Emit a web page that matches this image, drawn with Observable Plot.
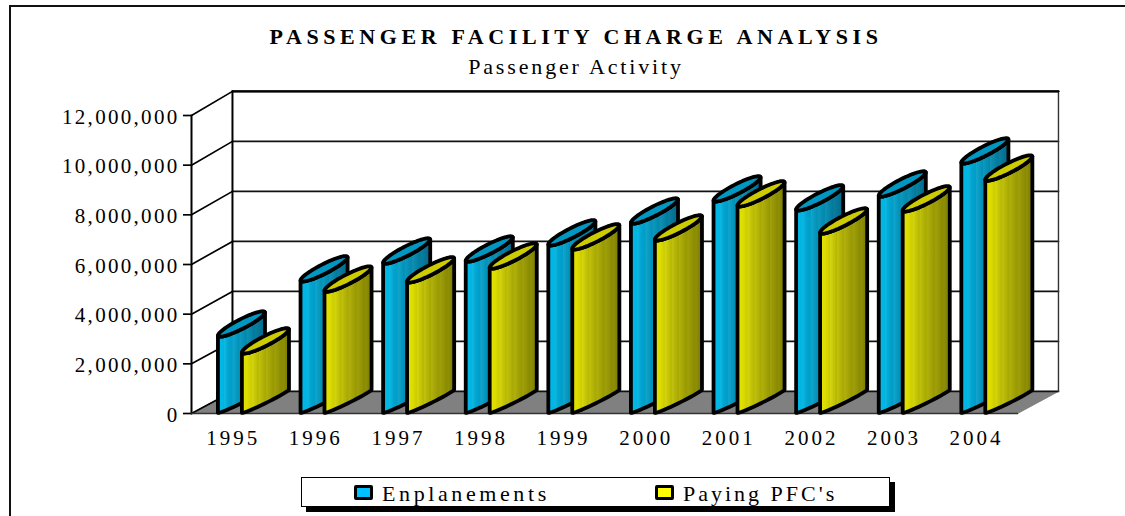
<!DOCTYPE html>
<html><head><meta charset="utf-8">
<script src="https://cdn.jsdelivr.net/npm/d3@7"></script>
<script src="https://cdn.jsdelivr.net/npm/@observablehq/plot@0.6"></script>
<style>
html,body{margin:0;padding:0;background:#fff;width:1125px;height:516px;overflow:hidden;font-family:"Liberation Serif",serif;color:#000}
#wrap{position:relative;width:1125px;height:516px;overflow:hidden}
#wrap svg{position:absolute;left:0;top:0}
#frame{position:absolute;left:9px;top:5px;width:1200px;height:600px;border:2px solid #111}
#title,#subtitle{position:absolute;left:0;width:1152px;text-align:center;white-space:nowrap}
#title{top:24px;font-size:22px;font-weight:bold;letter-spacing:4.6px}
#subtitle{top:54px;font-size:22px;letter-spacing:2.85px}
#legend{position:absolute;left:301px;top:477px;width:587px;height:28px;background:#fff;border:1px solid #000;box-shadow:5px 5px 0 #000;font-size:22px;letter-spacing:3.6px;line-height:28px}
.it{position:absolute;top:2px;white-space:nowrap}
.sw{position:absolute;top:7px;width:13px;height:9px;border:3px solid #000;border-radius:2px}
</style></head><body>
<div id="wrap">
<div id="frame"></div>
<div id="chart"></div>
<div id="title">PASSENGER FACILITY CHARGE ANALYSIS</div>
<div id="subtitle">Passenger Activity</div>
<div id="legend">
 <span class="sw" style="left:52px;background:#00c0ff"></span><span class="it" style="left:80px">Enplanements</span>
 <span class="sw" style="left:353px;background:#ffff00"></span><span class="it" style="left:381px;letter-spacing:3px">Paying PFC's</span>
</div>
</div>
<script>
const years = [1995,1996,1997,1998,1999,2000,2001,2002,2003,2004];
const enplanements = [3140000,5360000,6080000,6160000,6810000,7690000,8580000,8220000,8780000,10110000];
const payingPFCs = [2460000,4950000,5320000,5880000,6650000,7010000,8380000,7290000,8180000,9420000];
const yTicks = [0,2000000,4000000,6000000,8000000,10000000,12000000];

// projection of the pseudo-3D box, in data units
const x0 = 1994.58, x1 = 2004.58, depthX = 0.496;
const back = v => 890000 + v * 1.0068;

// elliptical cylinder cross-section
const barW = 0.57, barD = 930000, capBulge = 215000, baseBulge = 80000, steps = 28;
const ell = (x, base, t, b) => ({
  x: x + barW / 2 * (1 + Math.cos(t)),
  y: base + barD / 2 * (1 + Math.cos(t)) + b * Math.sin(t)
});
function body(id, x, v) {
  const pts = [];
  for (let i = 0; i <= steps; i++) { const t = Math.PI + i / steps * Math.PI; const p = ell(x, 30000, t, baseBulge); pts.push({...p, id}); }
  for (let i = 0; i <= steps; i++) { const t = 2 * Math.PI - i / steps * Math.PI; const p = ell(x, v, t, capBulge); pts.push({...p, id}); }
  pts.push(pts[0]);
  return pts;
}
function cap(id, x, v) {
  const pts = [];
  for (let i = 0; i <= steps * 2; i++) { const p = ell(x, v, i / steps * Math.PI, capBulge); pts.push({...p, id}); }
  return pts;
}
const series = [
  {vals: enplanements, off: -0.10, fill: "url(#gBlue)", capFill: "#0097c2"},
  {vals: payingPFCs, off: 0.19, fill: "url(#gYellow)", capFill: "#cccc00"}
];

const wallGrid = yTicks.flatMap(v => [{id:v,x:x0+depthX,y:back(v)},{id:v,x:x1+depthX,y:back(v)}]);
const sideGrid = yTicks.flatMap(v => [{id:v,x:x0,y:v},{id:v,x:x0+depthX,y:back(v)}]);
const floor = [{x:x0,y:0},{x:x1,y:0},{x:x1+depthX,y:back(0)},{x:x0+depthX,y:back(0)},{x:x0,y:0}];

const barMarks = years.flatMap((yr, i) => series.flatMap(s => [
  Plot.line(body(yr, yr + s.off, s.vals[i]), {x:"x", y:"y", z:"id", fill:s.fill, stroke:"#000", strokeWidth:3.8, curve:"linear"}),
  Plot.line(cap(yr, yr + s.off, s.vals[i]), {x:"x", y:"y", z:"id", fill:s.capFill, stroke:"#000", strokeWidth:3.8, curve:"linear"})
]));

const chart = Plot.plot({
  width:1125, height:516,
  marginLeft:191, marginRight:108, marginTop:115, marginBottom:103,
  style:{fontFamily:"'Liberation Serif',serif", background:"transparent", color:"#000"},
  x:{type:"linear", domain:[x0,x1]},
  y:{type:"linear", domain:[0,12000000]},
  marks:[
    Plot.line(floor,{x:"x",y:"y",fill:"#808080",stroke:"#808080",strokeWidth:1}),
    Plot.line(wallGrid,{x:"x",y:"y",z:"id",stroke:"#111",strokeWidth:1.7}),
    Plot.line(sideGrid,{x:"x",y:"y",z:"id",stroke:"#000",strokeWidth:1.7}),
    Plot.line([{x:x0+depthX,y:back(0)},{x:x0+depthX,y:back(12000000)}],{x:"x",y:"y",stroke:"#000",strokeWidth:2}),
    Plot.line([{x:x1+depthX,y:back(0)},{x:x1+depthX,y:back(12000000)}],{x:"x",y:"y",stroke:"#333",strokeWidth:1.4}),
    Plot.line([{x:x0+depthX,y:back(12000000)},{x:x1+depthX,y:back(12000000)}],{x:"x",y:"y",stroke:"#000",strokeWidth:2.2}),
    Plot.line([{x:x0,y:0},{x:x0,y:12000000}],{x:"x",y:"y",stroke:"#000",strokeWidth:2}),
    Plot.line([{x:x0,y:0},{x:x1,y:0}],{x:"x",y:"y",stroke:"#333",strokeWidth:1.5}),
    ...barMarks,
    Plot.axisY({ticks:yTicks, tickSize:8, tickPadding:4, tickFormat:d3.format(","), label:null, fontSize:21, strokeWidth:1.7, stroke:"#000", fill:"#000", textStroke:"none"}),
    Plot.axisX({ticks:years, tickSize:0, tickPadding:17, dx:7, tickFormat:d3.format("d"), label:null, fontSize:21, fill:"#000"})
  ]
});
d3.select(chart).selectAll('[aria-label="y-axis tick label"]').style("letter-spacing","2.3px").attr("transform", function(){ return (this.getAttribute("transform")||"") + " translate(0,1.5)"; });
d3.select(chart).selectAll('[aria-label="x-axis tick label"]').style("letter-spacing","3px");

// banded horizontal shading
const blueStops = [[0,"#00bcec"],[.12,"#00b4e2"],[.14,"#0fb8e0"],[.22,"#00a4d0"],[.3,"#009cc8"],[.32,"#12a4ca"],[.45,"#0090b8"],[.47,"#0e98bc"],[.6,"#0088ae"],[.62,"#1090b2"],[.78,"#007a9e"],[.8,"#0a7e9e"],[1,"#00688a"]];
const yellowStops = [[0,"#e4e400"],[.12,"#dcdc00"],[.2,"#cccc00"],[.22,"#d4d410"],[.35,"#b8b800"],[.37,"#c0c010"],[.5,"#a8a800"],[.52,"#b0b00e"],[.68,"#989800"],[.7,"#a0a00c"],[.85,"#8a8a00"],[.87,"#909008"],[1,"#787800"]];
const grad = (id, stops) => `<linearGradient id="${id}" x1="0" x2="1" y1="0" y2="0">${stops.map(s=>`<stop offset="${s[0]}" stop-color="${s[1]}"/>`).join("")}</linearGradient>`;
d3.select(chart).append("defs").html(grad("gBlue",blueStops)+grad("gYellow",yellowStops));
document.getElementById("chart").append(chart);
</script>
</body></html>
